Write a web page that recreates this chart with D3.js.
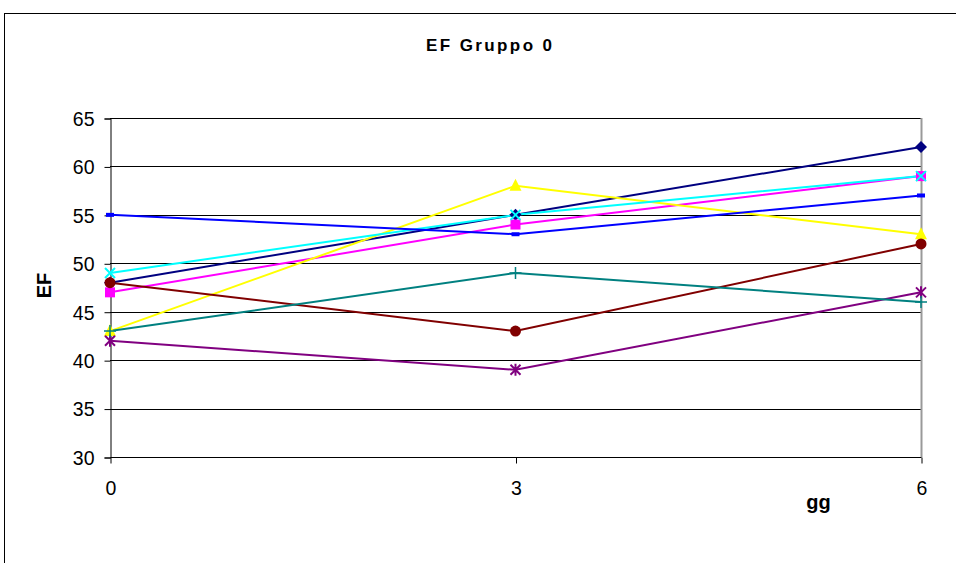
<!DOCTYPE html>
<html><head><meta charset="utf-8">
<script src="https://cdn.jsdelivr.net/npm/d3@7"></script>
<style>body{margin:0;background:#fff}svg{display:block}text{font-family:"Liberation Sans",Arial,sans-serif}</style>
</head><body>
<script>
const days = [0, 3, 6];
const yTicks = [30, 35, 40, 45, 50, 55, 60, 65];
const s1 = [48, 55, 62]; // navy diamond
const s2 = [47, 54, 59]; // magenta square
const s3 = [43, 58, 53]; // yellow triangle
const s4 = [49, 55, 59]; // cyan x
const s5 = [42, 39, 47]; // purple star
const s6 = [48, 43, 52]; // maroon circle
const s7 = [43, 49, 46]; // teal plus
const s8 = [55, 53, 57]; // blue dash
const series = [
  {v: s1, c: "#000080", m: "diamond"},
  {v: s2, c: "#FF00FF", m: "square"},
  {v: s3, c: "#FFFF00", m: "triangle"},
  {v: s4, c: "#00FFFF", m: "x"},
  {v: s5, c: "#800080", m: "star"},
  {v: s6, c: "#800000", m: "circle"},
  {v: s7, c: "#008080", m: "plus"},
  {v: s8, c: "#0000FF", m: "dash"}
];
const W = 956, H = 563;
const svg = d3.select("body").append("svg").attr("width", W).attr("height", H);
svg.append("rect").attr("x", 4.5).attr("y", 13.5).attr("width", 1000).attr("height", 700)
  .attr("fill", "#fff").attr("stroke", "#000").attr("stroke-width", 1);
const x = d3.scaleLinear().domain([0, 6]).range([110, 921]);
const y = d3.scaleLinear().domain([30, 65]).range([457, 118]);
// gridlines
svg.append("g").selectAll("line").data(yTicks.slice(1)).join("line")
  .attr("x1", 110).attr("x2", 921).attr("y1", d => Math.round(y(d)) + 0.5).attr("y2", d => Math.round(y(d)) + 0.5)
  .attr("stroke", "#000").attr("stroke-width", 1);
// right plot border
svg.append("line").attr("x1", 921.5).attr("x2", 921.5).attr("y1", y(65)).attr("y2", y(30))
  .attr("stroke", "#999").attr("stroke-width", 2);
// axes
const yAxis = d3.axisLeft(y).tickValues(yTicks).tickSize(6).tickPadding(10).tickFormat(d3.format("d"));
const gy = svg.append("g").attr("transform", "translate(110.5,0.5)").call(yAxis);
const xAxis = d3.axisBottom(x).tickValues(days).tickSize(6).tickPadding(18).tickFormat(d3.format("d"));
const gx = svg.append("g").attr("transform", "translate(0.5,457.5)").call(xAxis);
[gy, gx].forEach(g => {
  g.selectAll("path,line").attr("stroke", "#000");
  g.selectAll("text").attr("font-size", 19.5).attr("fill", "#000").attr("font-family", "Liberation Sans, Arial, sans-serif");
});
gy.selectAll("text").attr("dy", "0.35em");
gx.select(".domain").attr("d", "M110,0H921");
// lines
const line = d3.line().x((d, i) => x(days[i])).y(d => y(d));
series.forEach(s => {
  svg.append("path").attr("d", line(s.v)).attr("fill", "none").attr("stroke", s.c).attr("stroke-width", 2);
});
// markers
const sz = 5;
series.forEach(s => {
  const g = svg.append("g").attr("fill", s.c).attr("stroke", s.c);
  s.v.forEach((v, i) => {
    const cx = x(days[i]), cy = y(v);
    if (s.m === "diamond") g.append("path").attr("d", `M${cx},${cy-6}L${cx+6},${cy}L${cx},${cy+6}L${cx-6},${cy}Z`).attr("stroke", "none");
    else if (s.m === "square") g.append("rect").attr("x", cx-sz).attr("y", cy-sz).attr("width", 2*sz).attr("height", 2*sz).attr("stroke", "none");
    else if (s.m === "triangle") g.append("path").attr("d", `M${cx},${cy-7}L${cx+6},${cy+5}L${cx-6},${cy+5}Z`).attr("stroke", "none");
    else if (s.m === "circle") g.append("circle").attr("cx", cx).attr("cy", cy).attr("r", 5.5).attr("stroke", "none");
    else if (s.m === "x") g.append("path").attr("d", `M${cx-5},${cy-5}L${cx+5},${cy+5}M${cx-5},${cy+5}L${cx+5},${cy-5}`).attr("fill", "none").attr("stroke-width", 2);
    else if (s.m === "star") g.append("path").attr("d", `M${cx-5},${cy-5}L${cx+5},${cy+5}M${cx-5},${cy+5}L${cx+5},${cy-5}M${cx},${cy-6}L${cx},${cy+6}`).attr("fill", "none").attr("stroke-width", 2);
    else if (s.m === "plus") g.append("path").attr("d", `M${cx-6},${cy}L${cx+6},${cy}M${cx},${cy-6}L${cx},${cy+6}`).attr("fill", "none").attr("stroke-width", 1.5);
    else if (s.m === "dash") g.append("rect").attr("x", cx-4).attr("y", cy-2).attr("width", 8).attr("height", 4).attr("stroke", "none");
  });
});
// titles
svg.append("text").attr("x", 489).attr("y", 51).attr("text-anchor", "middle")
  .attr("font-size", 17).attr("font-weight", "bold")
  .attr("textLength", 126).attr("lengthAdjust", "spacing").text("EF Gruppo 0");
svg.append("text").attr("transform", "translate(51,285.5) rotate(-90)").attr("text-anchor", "middle")
  .attr("font-size", 20).attr("font-weight", "bold").text("EF");
svg.append("text").attr("x", 818.5).attr("y", 509).attr("text-anchor", "middle")
  .attr("font-size", 20).attr("font-weight", "bold").text("gg");
</script>
</body></html>
